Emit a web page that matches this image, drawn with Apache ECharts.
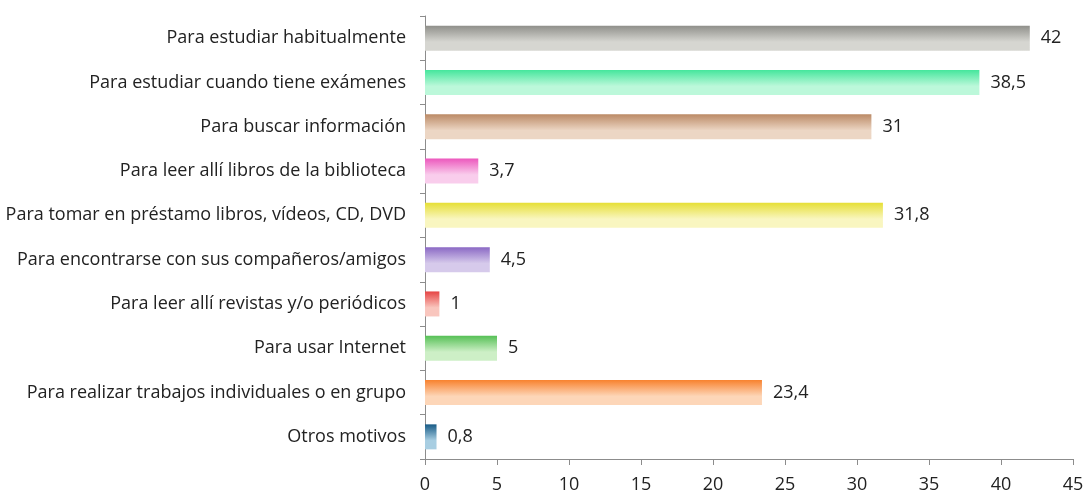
<!DOCTYPE html>
<html>
<head>
<meta charset="utf-8">
<script src="https://cdn.jsdelivr.net/npm/echarts@6/dist/echarts.min.js"></script>
<style>
  html, body { margin: 0; padding: 0; background: #fff; }
  #chart { width: 1086px; height: 490px; }
</style>
</head>
<body>
<div id="chart"></div>
<script>
// categories, top to bottom
const categories = [
  'Para estudiar habitualmente',
  'Para estudiar cuando tiene exámenes',
  'Para buscar información',
  'Para leer allí libros de la biblioteca',
  'Para tomar en préstamo libros, vídeos, CD, DVD',
  'Para encontrarse con sus compañeros/amigos',
  'Para leer allí revistas y/o periódicos',
  'Para usar Internet',
  'Para realizar trabajos individuales o en grupo',
  'Otros motivos'
];
const values = [42, 38.5, 31, 3.7, 31.8, 4.5, 1, 5, 23.4, 0.8];

// gradient colours per bar [top, bottom]
const topColors = ['#8f8f8a', '#45e69c', '#bb8a66', '#ec58bd', '#e6df36', '#8a68c4', '#e64444', '#56c056', '#f8822f', '#185b86'];
const bottomColors = ['#d6d6d1', '#bcf8da', '#ecd6c4', '#f9cdec', '#f9f6c0', '#d6caeb', '#f9c6be', '#cdefc6', '#fdd6b8', '#a8cee2'];

const FONT = '"Open Sans", "Noto Sans", sans-serif';

function gradient(i) {
  return new echarts.graphic.LinearGradient(0, 0, 0, 1, [
    {offset: 0, color: topColors[i]},
    {offset: 0.65, color: bottomColors[i]},
    {offset: 1, color: bottomColors[i]}
  ]);
}

const chart = echarts.init(document.getElementById('chart'), null, {renderer: 'canvas'});

chart.setOption({
  animation: false,
  grid: {
    left: 425,
    right: 13,
    top: 16,
    bottom: 31,
    outerBoundsMode: 'none'
  },
  xAxis: {
    type: 'value',
    min: 0,
    max: 45,
    interval: 5,
    axisLine: {show: true, lineStyle: {color: '#8c8c8c'}},
    axisTick: {show: true, length: 6, lineStyle: {color: '#8c8c8c'}},
    splitLine: {show: false},
    axisLabel: {
      fontFamily: FONT,
      fontSize: 18,
      color: '#222',
      margin: 17
    }
  },
  yAxis: {
    type: 'category',
    data: categories,
    inverse: true,
    axisLine: {show: true, lineStyle: {color: '#8c8c8c'}},
    axisTick: {show: true, length: 5, lineStyle: {color: '#8c8c8c'}},
    axisLabel: {
      fontFamily: FONT,
      fontSize: 18,
      color: '#222',
      margin: 19
    }
  },
  series: [{
    type: 'bar',
    barWidth: 25,
    data: values.map((v, i) => ({
      value: v,
      itemStyle: {color: gradient(i)}
    })),
    label: {
      show: true,
      position: 'right',
      distance: 11,
      fontFamily: FONT,
      fontSize: 18,
      color: '#222',
      formatter: (p) => String(p.value).replace('.', ',')
    }
  }]
});
</script>
</body>
</html>
